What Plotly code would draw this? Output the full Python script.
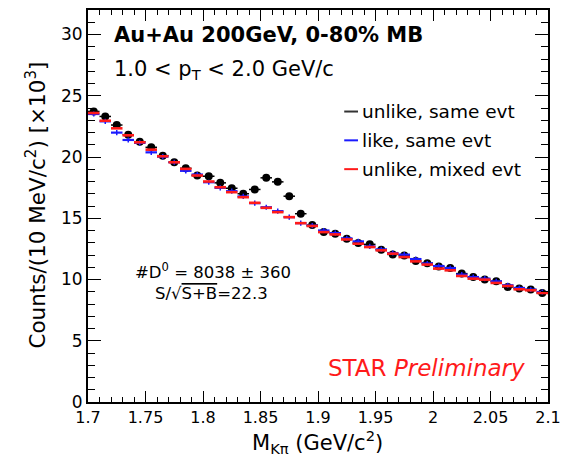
import plotly.graph_objects as go

# bin centers (GeV/c^2)
mass = [1.705, 1.715, 1.725, 1.735, 1.745, 1.755, 1.765, 1.775, 1.785, 1.795,
        1.805, 1.815, 1.825, 1.835, 1.845, 1.855, 1.865, 1.875, 1.885, 1.895,
        1.905, 1.915, 1.925, 1.935, 1.945, 1.955, 1.965, 1.975, 1.985, 1.995,
        2.005, 2.015, 2.025, 2.035, 2.045, 2.055, 2.065, 2.075, 2.085, 2.095]

# counts per 10 MeV/c^2, x10^3
unlike_same = [23.72, 23.31, 22.61, 21.82, 21.25, 20.79, 20.11, 19.57, 19.08, 18.49,
               18.43, 17.89, 17.45, 17.00, 17.35, 18.30, 17.97, 16.80, 15.37, 14.44,
               13.87, 13.74, 13.33, 12.97, 12.87, 12.43, 12.05, 11.95, 11.51, 11.33,
               11.07, 10.94, 10.48, 10.20, 9.99, 9.85, 9.39, 9.26, 9.18, 8.90]

like_same = [23.51, 22.91, 21.99, 21.39, 21.15, 20.38, 20.03, 19.57, 18.87, 18.57,
             17.94, 17.48, 17.21, 16.78, 16.23, 15.90, 15.58, 15.09, 14.60, 14.40,
             14.00, 13.79, 13.36, 13.11, 12.70, 12.46, 12.16, 12.03, 11.67, 11.31,
             11.10, 10.94, 10.40, 10.20, 10.07, 9.85, 9.53, 9.31, 9.18, 8.98]

unlike_mixed = [23.59, 22.96, 22.34, 21.77, 21.20, 20.60, 20.06, 19.57, 19.03, 18.49,
                18.00, 17.53, 17.13, 16.72, 16.26, 15.85, 15.50, 15.09, 14.60, 14.37,
                13.87, 13.68, 13.27, 12.92, 12.65, 12.38, 12.11, 11.83, 11.48, 11.22,
                10.89, 10.75, 10.29, 10.07, 9.99, 9.72, 9.47, 9.20, 9.12, 8.90]

x_ticks = [1.7, 1.75, 1.8, 1.85, 1.9, 1.95, 2.0, 2.05, 2.1]
x_ticklabels = ["1.7", "1.75", "1.8", "1.85", "1.9", "1.95", "2", "2.05", "2.1"]
y_ticks = [0, 5, 10, 15, 20, 25, 30]

FONT = "DejaVu Sans"
half_bin = 0.005
stat_err = 0.16

fig = go.Figure()

fig.add_trace(go.Scatter(
    x=mass, y=unlike_same, mode="markers", name="unlike, same evt",
    marker=dict(symbol="circle", size=8, color="black"),
    error_x=dict(type="constant", value=half_bin, width=0, thickness=1.5, color="black"),
    error_y=dict(type="constant", value=stat_err, width=0, thickness=1.5, color="black"),
    showlegend=False))

fig.add_trace(go.Scatter(
    x=mass, y=like_same, mode="markers", name="like, same evt",
    marker=dict(size=1, color="#1a1aff"),
    error_x=dict(type="constant", value=half_bin, width=0, thickness=2.2, color="#1a1aff"),
    error_y=dict(type="constant", value=stat_err + 0.05, width=0, thickness=1.5, color="#1a1aff"),
    showlegend=False))

fig.add_trace(go.Scatter(
    x=mass, y=unlike_mixed, mode="markers", name="unlike, mixed evt",
    marker=dict(size=1, color="#ff1a1a"),
    error_x=dict(type="constant", value=half_bin, width=0, thickness=2.6, color="#ff1a1a"),
    error_y=dict(type="constant", value=0.05, width=0, thickness=1.5, color="#ff1a1a"),
    showlegend=False))

# legend drawn manually (ROOT-style)
legend_items = [("unlike, same evt", "#333333", 0.741),
                ("like, same evt", "#1a1aff", 0.6675),
                ("unlike, mixed evt", "#ff1a1a", 0.594)]
shapes = []
annotations = []
for label, col, yp in legend_items:
    shapes.append(dict(type="line", xref="paper", yref="paper",
                       x0=0.557, x1=0.587, y0=yp, y1=yp,
                       line=dict(color=col, width=2)))
    annotations.append(dict(text=label, xref="paper", yref="paper", x=0.591, y=yp,
                            xanchor="left", yanchor="middle", showarrow=False,
                            font=dict(family=FONT, size=18.5, color="black")))

annotations += [
    dict(text="<b>Au+Au 200GeV, 0-80% MB</b>", xref="paper", yref="paper",
         x=0.0516, y=0.9365, xanchor="left", yanchor="middle", showarrow=False,
         font=dict(family=FONT, size=21, color="black")),
    dict(text="1.0 &lt; p<sub>T</sub> &lt; 2.0 GeV/c", xref="paper", yref="paper",
         x=0.0516, y=0.846, xanchor="left", yanchor="middle", showarrow=False,
         font=dict(family=FONT, size=21, color="black")),
    dict(text="#D<sup>0</sup> = 8038 ± 360", xref="paper", yref="paper",
         x=0.271, y=0.333, xanchor="center", yanchor="middle", showarrow=False,
         font=dict(family=FONT, size=16.5, color="black")),
    dict(text="S/√<span style='text-decoration:overline'>S+B</span>=22.3", xref="paper", yref="paper",
         x=0.268, y=0.2766, xanchor="center", yanchor="middle", showarrow=False,
         font=dict(family=FONT, size=16.5, color="black")),
    dict(text="STAR <i>Preliminary</i>", xref="paper", yref="paper",
         x=0.735, y=0.0863, xanchor="center", yanchor="middle", showarrow=False,
         font=dict(family=FONT, size=23, color="#ff1a1a")),
    dict(text="Counts/(10 MeV/c<sup>2</sup>) [×10<sup>3</sup>]", xref="paper", yref="paper",
         x=-0.114, y=0.5025, xanchor="center", yanchor="middle", showarrow=False,
         textangle=-90, font=dict(family=FONT, size=21.5, color="black")),
    dict(text="M<sub>Kπ</sub> (GeV/c<sup>2</sup>)", xref="paper", yref="paper",
         x=0.499, y=-0.101, xanchor="center", yanchor="middle", showarrow=False,
         font=dict(family=FONT, size=21, color="black")),
]

axis_common = dict(showline=True, linecolor="black", linewidth=2, mirror="allticks",
                   ticks="inside", tickcolor="black", tickwidth=1, showgrid=False,
                   zeroline=False)

fig.update_layout(
    width=569, height=456,
    margin=dict(l=88, r=16, t=8, b=54),
    paper_bgcolor="white", plot_bgcolor="white",
    font=dict(family=FONT, color="black"),
    xaxis=dict(range=[1.7, 2.1], tickvals=x_ticks, ticktext=x_ticklabels, ticklen=11,
               tickfont=dict(family=FONT, size=16),
               minor=dict(dtick=0.01, ticklen=5, ticks="inside", tickcolor="black", tickwidth=1),
               **axis_common),
    yaxis=dict(range=[0, 32], tickvals=y_ticks, ticklen=13,
               tickfont=dict(family=FONT, size=17),
               minor=dict(dtick=1, ticklen=7, ticks="inside", tickcolor="black", tickwidth=1),
               **axis_common),
    shapes=shapes,
    annotations=annotations,
)

fig.write_html("out.html")
